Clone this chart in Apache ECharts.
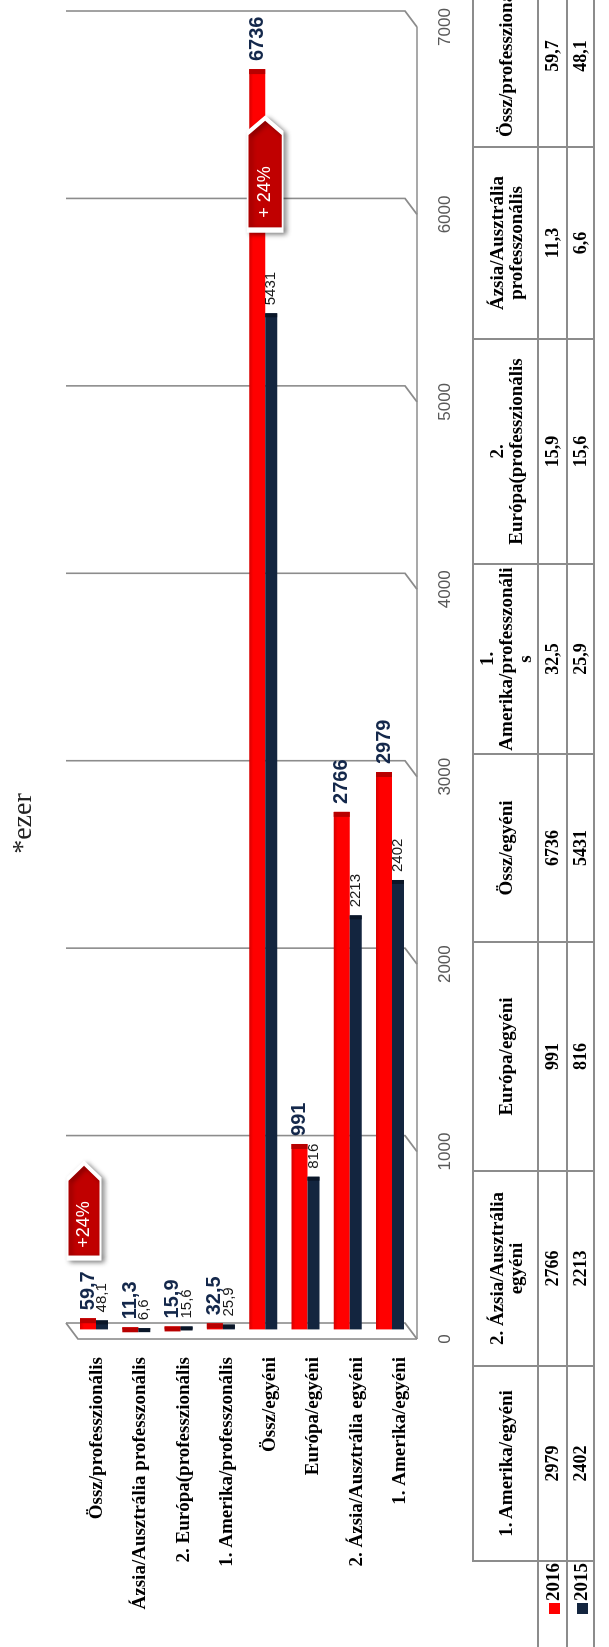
<!DOCTYPE html>
<html>
<head>
<meta charset="utf-8">
<script src="https://cdn.jsdelivr.net/npm/echarts@6/dist/echarts.min.js"></script>
<style>
  html, body { margin: 0; padding: 0; background: #fff; overflow: hidden; width: 609px; height: 1647px; }
  /* the whole landscape sheet is turned a quarter turn counter-clockwise */
  #page {
    position: absolute; left: 0; top: 0; width: 1647px; height: 609px;
    overflow: hidden; background: #fff;
    transform-origin: 0 0; transform: translateY(1647px) rotate(-90deg);
  }
  #chart { position: absolute; left: 0; top: 0; width: 1647px; height: 609px; }
  #tbl {
    position: absolute; left: -3px; top: 472px; width: 1684px;
    border-collapse: collapse; table-layout: fixed;
    font-family: "Liberation Serif", "Times New Roman", serif; font-weight: bold; color: #000;
  }
  #tbl th, #tbl td {
    border: 2px solid #8c8c8c; padding: 0; text-align: center; vertical-align: middle;
    white-space: pre; overflow: hidden;
  }
  #tbl th { height: 63px; font-size: 19px; line-height: 19px; }
  #tbl th.corner { border-top: none; border-left: none; }
  #tbl td { font-size: 18px; line-height: 19px; }
  #tbl tr.r1 td { height: 27px; }
  #tbl tr.r2 td { height: 25px; }
  #tbl td.leg { text-align: right; font-size: 19px; padding-right: 1px; }
  #tbl .sw { display: inline-block; width: 11px; height: 11px; margin-right: 2px; vertical-align: -1px; }
</style>
</head>
<body>
<div id="page">
  <div id="chart"></div>
  <table id="tbl"></table>
</div>
<script>
// ---- data ----
const categories = [
  'Össz/professzionális',
  'Ázsia/Ausztrália professzonális',
  '2. Európa(professzionális',
  '1. Amerika/professzonális',
  'Össz/egyéni',
  'Európa/egyéni',
  '2. Ázsia/Ausztrália egyéni',
  '1. Amerika/egyéni'
];
const values2016 = [59.7, 11.3, 15.9, 32.5, 6736, 991, 2766, 2979];
const values2015 = [48.1, 6.6, 15.6, 25.9, 5431, 816, 2213, 2402];
const seriesNames = ['2016', '2015'];
const valueTicks = [0, 1000, 2000, 3000, 4000, 5000, 6000, 7000];
const chartTitle = '*ezer';
// data-table column headings (table runs in the opposite order of the bars)
const tableHeaders = [
  '1. Amerika/egyéni',
  '2. Ázsia/Ausztrália\negyéni',
  'Európa/egyéni',
  'Össz/egyéni',
  '1.\nAmerika/professzonáli\ns',
  '2.\nEurópa(professzionális',
  'Ázsia/Ausztrália\nprofesszonális',
  'Össz/professzionális'
];

// ---- styles ----
const RED = '#ff0000', RED_CAP = '#b80000';
const NAVY = '#13253f', NAVY_CAP = '#0a1628';
const WALL = '#8c8c8c';
const DEPTH = [-16, 12];               // 3D depth offset of the floor / side wall
const fmt = v => String(v).replace('.', ',');
const growth = (a, b) => Math.round((a / b - 1) * 100);

const iTotalInd = categories.indexOf('Össz/egyéni');
const iTotalPro = categories.indexOf('Össz/professzionális');

// back wall grid lines with their perspective step onto the side wall
function renderWall(params, api) {
  const v = api.value(0);
  const top = api.coord([v, 1]);
  const bot = api.coord([v, 0]);
  const st = { stroke: WALL, lineWidth: 1.6, fill: null };
  const children = [{
    type: 'polyline',
    shape: { points: [top, bot, [bot[0] + DEPTH[0], bot[1] + DEPTH[1]]] },
    style: st
  }];
  if (params.dataIndex === 0) {
    children.push({
      type: 'polyline',
      shape: { points: [top, [top[0] + DEPTH[0], top[1] + DEPTH[1]], [bot[0] + DEPTH[0], bot[1] + DEPTH[1]]] },
      style: st
    });
  }
  if (params.dataIndex === valueTicks.length - 1) {
    const zero = api.coord([valueTicks[0], 0]);
    children.push({
      type: 'line',
      shape: { x1: bot[0] + DEPTH[0], y1: bot[1] + DEPTH[1], x2: zero[0] + DEPTH[0], y2: zero[1] + DEPTH[1] },
      style: st
    });
  }
  return { type: 'group', children };
}

const calloutStyle = {
  color: '#c00000', borderColor: '#fff', borderWidth: 3,
  shadowBlur: 5, shadowColor: 'rgba(0,0,0,0.4)', shadowOffsetX: -2, shadowOffsetY: 3
};
const calloutLabel = { show: true, position: 'inside', color: '#fff', fontSize: 18, fontFamily: 'Liberation Sans, Arial, sans-serif' };

const chart = echarts.init(document.getElementById('chart'), null, { renderer: 'canvas' });
chart.setOption({
  animation: false,
  backgroundColor: '#fff',
  title: {
    text: chartTitle, left: 'center', top: 5,
    textStyle: { fontFamily: 'Liberation Serif, serif', fontSize: 28, fontWeight: 'normal', color: '#222' }
  },
  grid: [
    { left: 300, width: 20, top: 75.4, height: 346.3 },          // category names
    { left: 324, right: 11, top: 66, height: 339 },              // walls + value ticks
    { left: 317.6, right: 19.7, top: 72.86, height: 338.3 }      // bars
  ],
  xAxis: [
    { gridIndex: 0, type: 'value', show: false },
    {
      gridIndex: 1, type: 'value', min: 0, max: 7000, interval: 1000,
      axisLine: { show: false }, axisTick: { show: false }, splitLine: { show: false },
      axisLabel: {
        margin: 32, padding: [0, 32, 0, 0], showMinLabel: true, showMaxLabel: true,
        formatter: v => String(v),
        color: '#595959', fontSize: 17, fontFamily: 'Liberation Sans, Arial, sans-serif'
      }
    },
    { gridIndex: 2, type: 'value', min: 0, max: 7000, show: false }
  ],
  yAxis: [
    {
      gridIndex: 0, type: 'category', inverse: true, data: categories,
      axisLine: { show: false }, axisTick: { show: false },
      axisLabel: {
        margin: 10, color: '#000', fontSize: 19, fontWeight: 'bold',
        fontFamily: 'Liberation Serif, Times New Roman, serif'
      }
    },
    { gridIndex: 1, type: 'value', min: 0, max: 1, show: false },
    { gridIndex: 2, type: 'category', inverse: true, data: categories, show: false }
  ],
  series: [
    {
      type: 'custom', xAxisIndex: 1, yAxisIndex: 1, silent: true, clip: false, z: 1,
      data: valueTicks.map(v => [v, 0]), encode: { x: 0, y: 1 },
      renderItem: renderWall
    },
    {
      name: seriesNames[0], type: 'bar', xAxisIndex: 2, yAxisIndex: 2,
      data: values2016, barWidth: 16, barGap: '0%', z: 2,
      itemStyle: {
        color: new echarts.graphic.LinearGradient(0, 0, 0, 1, [
          { offset: 0, color: '#d60000' }, { offset: 0.25, color: RED }, { offset: 1, color: RED }
        ])
      },
      label: {
        show: true, position: 'right', distance: 8, formatter: p => fmt(p.value),
        color: '#14284b', fontSize: 20, fontWeight: 'bold', fontFamily: 'Liberation Sans, Arial, sans-serif'
      },
      markPoint: {
        silent: true,
        data: [
          {
            coord: [6175, categories[iTotalInd]],
            symbol: 'path://M0,0 L97,0 L112,17.5 L97,35 L0,35 Z', symbolSize: [112, 35], symbolOffset: [0, 8],
            itemStyle: calloutStyle,
            label: Object.assign({}, calloutLabel, {
              offset: [-18, 0],
              formatter: '+ ' + growth(values2016[iTotalInd], values2015[iTotalInd]) + '%'
            })
          },
          {
            coord: [635, categories[iTotalPro]],
            symbol: 'path://M0,0 L79,0 L95,16.5 L79,33 L0,33 Z', symbolSize: [95, 33], symbolOffset: [0, -4],
            itemStyle: calloutStyle,
            label: Object.assign({}, calloutLabel, {
              offset: [-14, 0],
              formatter: '+' + growth(values2016[iTotalPro], values2015[iTotalPro]) + '%'
            })
          }
        ]
      }
    },
    {
      name: seriesNames[1], type: 'bar', xAxisIndex: 2, yAxisIndex: 2,
      data: values2015, barWidth: 12, barGap: '0%', z: 2,
      itemStyle: { color: NAVY },
      label: {
        show: true, position: 'right', distance: 8, formatter: p => fmt(p.value),
        color: '#1a1a1a', fontSize: 15, fontFamily: 'Liberation Sans, Arial, sans-serif'
      }
    },
    {
      type: 'pictorialBar', xAxisIndex: 2, yAxisIndex: 2, silent: true, z: 3,
      data: values2016, barWidth: 16, barGap: '0%',
      symbol: 'rect', symbolSize: [5, '100%'], symbolPosition: 'end',
      itemStyle: { color: RED_CAP }
    },
    {
      type: 'pictorialBar', xAxisIndex: 2, yAxisIndex: 2, silent: true, z: 3,
      data: values2015, barWidth: 12, barGap: '0%',
      symbol: 'rect', symbolSize: [4, '100%'], symbolPosition: 'end',
      itemStyle: { color: NAVY_CAP }
    }
  ]
});

// ---- data table under the chart ----
const colWidths = [88, 195, 195, 229, 188, 190, 225, 192, 182];
const order = categories.map((_, i) => categories.length - 1 - i);
const rows = [
  { name: seriesNames[0], vals: values2016, color: RED, cls: 'r1' },
  { name: seriesNames[1], vals: values2015, color: NAVY, cls: 'r2' }
];
let html = '<colgroup>' + colWidths.map(w => '<col style="width:' + w + 'px">').join('') + '</colgroup>';
html += '<thead><tr><th class="corner"></th>' + tableHeaders.map(h => '<th>' + h + '</th>').join('') + '</tr></thead><tbody>';
rows.forEach(r => {
  html += '<tr class="' + r.cls + '"><td class="leg"><span class="sw" style="background:' + r.color + '"></span>' + r.name + '</td>' +
    order.map(i => '<td>' + fmt(r.vals[i]) + '</td>').join('') + '</tr>';
});
html += '</tbody>';
document.getElementById('tbl').innerHTML = html;
</script>
</body>
</html>
